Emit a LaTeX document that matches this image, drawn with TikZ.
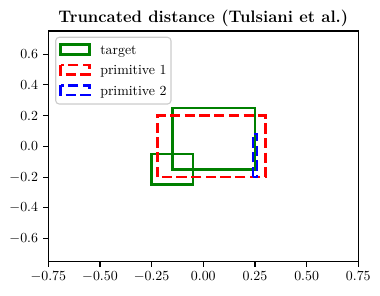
\documentclass[tikz,border=0pt]{standalone}
\definecolor{mplgreen}{rgb}{0,0.5,0}
\definecolor{legframe}{gray}{0.8}
\begin{document}
\begin{tikzpicture}[x=0.72pt,y=-0.72pt,
  spine/.style={line width=0.8pt},
  tickmark/.style={line width=0.8pt},
  ticklab/.style={font=\fontsize{10}{12}\selectfont, inner sep=0pt},
  target/.style={draw=mplgreen, line width=2pt},
  prim/.style={line width=2pt, dash pattern=on 7.4pt off 3.2pt},
  legtext/.style={font=\fontsize{10}{12}\selectfont, inner sep=0pt, anchor=base west}]
\useasboundingbox (0,0) rectangle (380,295);
\node[font=\fontsize{12}{14}\selectfont\bfseries, anchor=base, inner sep=0pt] (title) at (203.3,22.7) {Truncated distance (Tulsiani et al.)};
\begin{scope}[shift={(203.3,146.35)}, x=148.8pt, y=110.7pt]
  \draw[target] (-0.15,-0.15) rectangle (0.25,0.25);
  \draw[target] (-0.25,-0.25) rectangle (-0.05,-0.05);
  \draw[prim, red] (-0.22,-0.2) rectangle (0.3,0.2);
  \draw[prim, blue] (0.24,-0.2) rectangle (0.26,0.08);
  \draw[spine] (-0.75,-0.75) rectangle (0.75,0.75);
  \foreach \v/\l [count=\i] in {-0.75/-0.75,-0.5/-0.50,-0.25/-0.25,0/0.00,0.25/0.25,0.5/0.50,0.75/0.75}
    \draw[tickmark] (\v,-0.75) -- ++(0,-3.5pt) node[ticklab, anchor=north, yshift=-3.5pt] (xl\i) {$\l$};
  \foreach \v/\l [count=\i] in {-0.6/-0.6,-0.4/-0.4,-0.2/-0.2,0/0.0,0.2/0.2,0.4/0.4,0.6/0.6}
    \draw[tickmark] (-0.75,\v) -- ++(-3.5pt,0) node[ticklab, anchor=east, xshift=-3.5pt] (yl\i) {$\l$};
\end{scope}
\draw[draw=legframe, fill=white, fill opacity=0.8, line width=0.8pt, rounded corners=2.5pt] (55.7,37.3) rectangle (171,104);
\draw[target] (60.7,44.5) rectangle (89.3,54.2);
\draw[prim, red] (60.7,64.9) rectangle (89.3,74.6);
\draw[prim, blue] (60.7,85.3) rectangle (89.3,95.0);
\node[legtext] (l1) at (100,54.3) {target};
\node[legtext] (l2) at (100,74.7) {primitive 1};
\node[legtext] (l3) at (100,95.1) {primitive 2};
\end{tikzpicture}
\end{document}
